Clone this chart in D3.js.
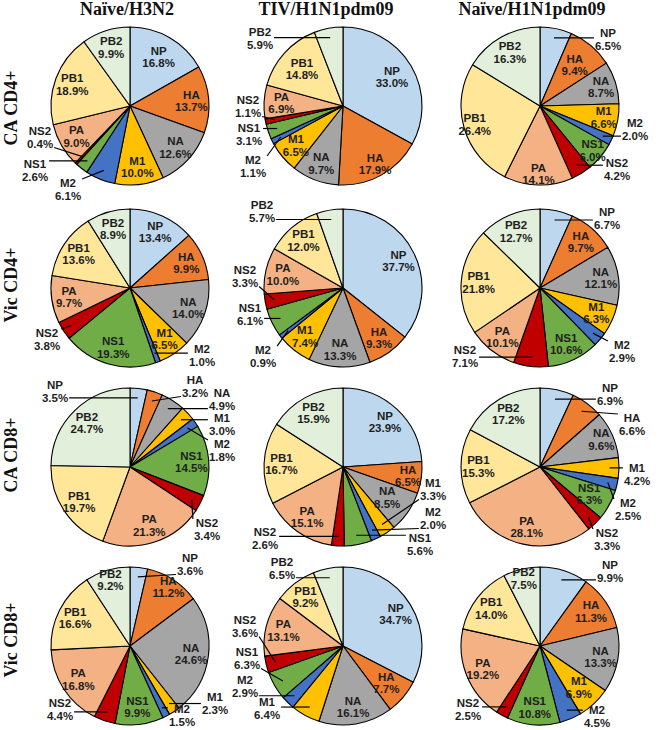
<!DOCTYPE html>
<html>
<head>
<meta charset="utf-8">
<title>pies</title>
<script src="https://cdnjs.cloudflare.com/ajax/libs/d3/7.8.5/d3.min.js"></script>
<style>
body { margin:0; background:#fff; }
svg text { font-family:"Liberation Sans", Arial, sans-serif; }
.hd { font-family:"Liberation Serif", "Times New Roman", serif; font-weight:bold; font-size:18px; fill:#111; }
.lb { font-weight:bold; font-size:11.5px; fill:#1e1e1e; }
</style>
</head>
<body>
<svg id="chart" width="660" height="730"></svg>
<script>
// segments go clockwise from 12 o'clock
const segs = ["NP","HA","NA","M1","M2","NS1","NS2","PA","PB1","PB2"];
const cols = ["Naïve/H3N2","TIV/H1N1pdm09","Naïve/H1N1pdm09"];
const rows = ["CA CD4+","Vic CD4+","CA CD8+","Vic CD8+"];

// one array per column, values in % in segs order
const caCD4 = [
  [16.8,13.7,12.6,10.0,6.1,2.6,0.4,9.0,18.9,9.9],
  [33.0,17.9,9.7,6.5,1.1,3.1,1.1,6.9,14.8,5.9],
  [6.5,9.4,8.7,6.6,2.0,6.0,4.2,14.1,26.4,16.3]];
const vicCD4 = [
  [13.4,9.9,14.0,6.5,1.0,19.3,3.8,9.7,13.6,8.9],
  [37.7,9.3,13.3,7.4,0.9,6.1,3.3,10.0,12.0,5.7],
  [6.7,9.7,12.1,6.3,2.9,10.6,7.1,10.1,21.8,12.7]];
const caCD8 = [
  [3.5,3.2,4.9,3.0,1.8,14.5,3.4,21.3,19.7,24.7],
  [23.9,6.5,8.5,3.3,2.0,5.6,2.6,15.1,16.7,15.9],
  [6.9,6.6,9.6,4.2,2.5,6.3,3.3,28.1,15.3,17.2]];
const vicCD8 = [
  [3.6,11.2,24.6,2.3,1.5,9.9,4.4,16.8,16.6,9.2],
  [34.7,7.7,16.1,6.4,2.9,6.3,3.6,13.1,9.2,6.5],
  [9.9,11.3,13.3,6.9,4.5,10.8,2.5,19.2,14.0,7.5]];
const panels = [caCD4, vicCD4, caCD8, vicCD8];

// labels placed outside the pie (offset from pie centre), with a leader line
const outside = [
  [{NS2:[-90,25], NS1:[-95,58], M2:[-62,77]},
   {PB2:[-83,-74], NS2:[-95,-6], NS1:[-94,22], M2:[-90,54]},
   {NP:[68,-73], M2:[95,17], NS2:[77,57]}],
  [{NS2:[-83,45], M2:[72,61]},
   {PB2:[-81,-83], NS2:[-98,-18], NS1:[-93,20], M2:[-80,62]},
   {NP:[67,-76], M2:[82,57], NS2:[-75,62]}],
  [{NP:[-75,-82], HA:[65,-87], NA:[92,-74], M1:[92,-49], M2:[92,-23], NS2:[77,56]},
   {M1:[90,16], M2:[90,45], NS1:[77,71], NS2:[-78,65]},
   {NP:[70,-79], HA:[92,-49], M1:[97,1], M2:[88,36], NS2:[67,66]}],
  [{NP:[60,-88], M1:[85,51], M2:[52,63], NS2:[-70,57]},
   {PB2:[-61,-84], NS2:[-98,-26], NS1:[-96,6], M2:[-98,34], M1:[-76,56]},
   {NP:[70,-81], M2:[57,64], NS2:[-72,57]}]];

// inside labels sit at 0.78 R unless listed here
const labelR = [
  [{NP:0.72}, {NP:0.72, HA:0.84, PB1:0.7},
   {PA:0.86, PB1:0.86, NS1:0.87, M1:0.82, HA:0.68, NA:0.81}],
  [{}, {}, {}],
  [{}, {NA:0.68, HA:0.83}, {NA:0.85, NS1:0.71}],
  [{HA:0.89, PB2:0.87}, {HA:0.72}, {PB2:0.88, M1:0.72}]];

const colX = [130, 343, 540], rowY = [106, 288, 467, 646], R = 79;
const colour = d3.scaleOrdinal().domain(segs)
  .range(["#bdd7ee","#ed7d31","#a5a5a5","#ffc000","#4472c4","#70ad47","#c00000","#f4b183","#ffe699","#e2efda"]);
const pie = d3.pie().sort(null).value(d => d.v);
const arc = d3.arc().innerRadius(0).outerRadius(R);
const ringAt = f => d3.arc().innerRadius(R*f).outerRadius(R*f);
const tipArc = ringAt(0.88);

const svg = d3.select("#chart");

svg.selectAll("text.col").data(cols).join("text")
  .attr("class","hd col").attr("text-anchor","middle")
  .attr("x", (d,i) => [127,326,532][i]).attr("y", 15).text(d => d);

svg.selectAll("text.row").data(rows).join("text")
  .attr("class","hd row").attr("text-anchor","middle")
  .attr("transform", (d,i) => `translate(17,${[108,285,455,640][i]}) rotate(-90)`).text(d => d);

panels.forEach((rowData, ri) => rowData.forEach((vals, ci) => {
  const g = svg.append("g").attr("transform", `translate(${colX[ci]},${rowY[ri]})`);
  const arcs = pie(vals.map((v,i) => ({k:segs[i], v})));
  g.selectAll("path").data(arcs).join("path")
    .attr("d", arc).attr("fill", d => colour(d.data.k))
    .attr("stroke","#000").attr("stroke-width",1.1).attr("stroke-linejoin","round");
  const out = outside[ri][ci], lr = labelR[ri][ci];
  arcs.forEach(d => {
    const o = out[d.data.k];
    let x, y;
    if (o) { [x, y] = o; }
    else { [x, y] = ringAt(lr[d.data.k] || 0.78).centroid(d); y -= 6.25; }
    const t = g.append("text").attr("class","lb").attr("text-anchor","middle");
    t.append("tspan").attr("x", x).attr("y", y).attr("dy","0.35em").text(d.data.k);
    t.append("tspan").attr("x", x).attr("y", y+12.5).attr("dy","0.35em").text(d.data.v.toFixed(1)+"%");
    if (o) {
      const b = t.node().getBBox();
      const [px, py] = tipArc.centroid(d);
      const ex = Math.max(b.x-1, Math.min(px, b.x+b.width+1));
      const ey = Math.max(b.y+2, Math.min(py, b.y+b.height-2));
      g.append("line").attr("x1", px).attr("y1", py).attr("x2", ex).attr("y2", ey)
        .attr("stroke","#000").attr("stroke-width",1.2);
    }
  });
}));
</script>
</body>
</html>
